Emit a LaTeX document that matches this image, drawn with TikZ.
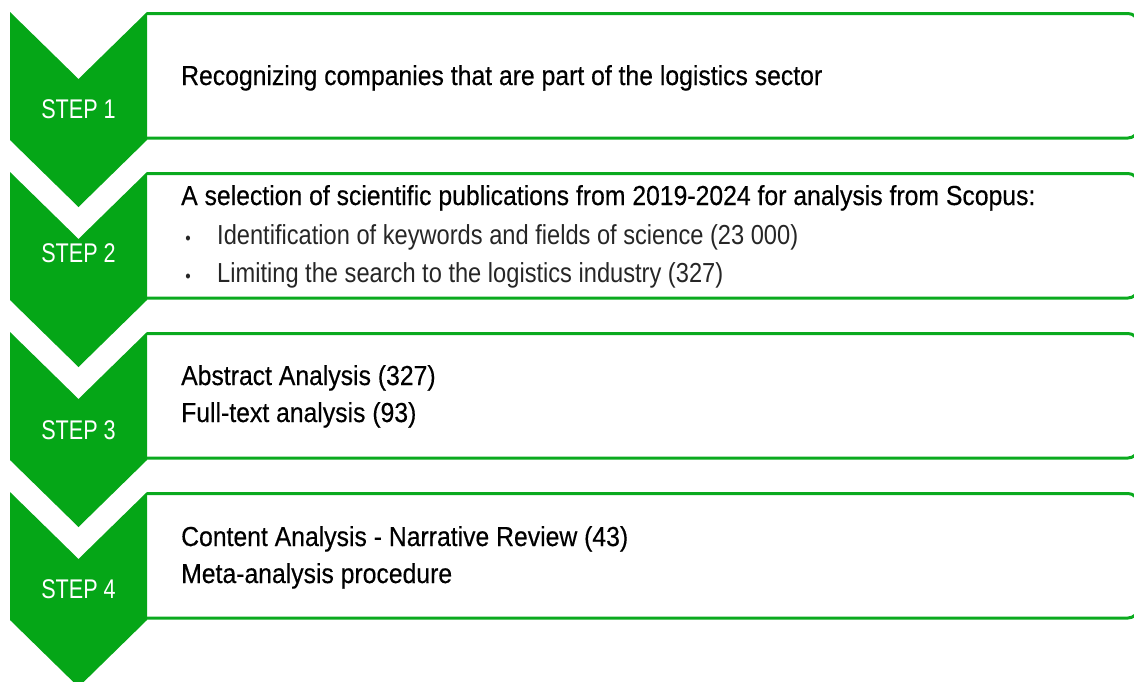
\documentclass[tikz,border=0pt]{standalone}
\usepackage{fontspec}
\setmainfont{Liberation Sans}[FakeStretch=0.86]
\newfontfamily\headfont{Liberation Sans}[FakeStretch=0.90,FakeBold=0.35]
\newfontfamily\labelfont{Liberation Sans}[FakeStretch=0.80]
\definecolor{stepgreen}{RGB}{5,166,23}
\definecolor{framegreen}{RGB}{10,170,30}
\begin{document}
\begin{tikzpicture}[x=1pt,y=-1pt,
  chevron/.style={fill=stepgreen,draw=none},
  frame/.style={draw=framegreen,line width=3pt,rounded corners=10pt},
  steplabel/.style={text=white,font=\labelfont\fontsize{27}{30}\selectfont,anchor=base,inner sep=0pt},
  headline/.style={font=\headfont\fontsize{27.5}{30}\selectfont,anchor=base west,inner sep=0pt,text=black},
  itemline/.style={font=\fontsize{27.5}{30}\selectfont,anchor=base west,inner sep=0pt,text=black!85},
  dot/.style={font=\fontsize{18}{20}\selectfont,anchor=base,inner sep=0pt,text=black!85}]
\useasboundingbox (0,0) rectangle (1134,681);
\begin{scope}
\clip (0,0) rectangle (1134,681);
% frames (left edge is hidden under the chevrons)
\foreach \t in {12,172,332,492}{
  \draw[frame] (147,\t+1.5) -| (1138,\t+126) -- (147,\t+126);
}
% chevrons
\foreach \t in {12,172,332,492}{
  \fill[chevron] (10,\t) -- (78.5,\t+67) -- (147,\t) -- (147,\t+128)
    -- (78.5,\t+195) -- (10,\t+128) -- cycle;
}
\end{scope}
% step labels
\node[steplabel] (s1) at (78.5,118) {STEP 1};
\node[steplabel] (s2) at (78.5,262) {STEP 2};
\node[steplabel] (s3) at (78.5,439) {STEP 3};
\node[steplabel] (s4) at (78.5,598) {STEP 4};
% step 1
\node[headline] (t1) at (181,85) {Recognizing companies that are part of the logistics sector};
% step 2
\node[headline] (t2) at (181,205) {A selection of scientific publications from 2019-2024 for analysis from Scopus:};
\node[dot] (d2a) at (188,244) {•};
\node[itemline] (t2a) at (217,244) {Identification of keywords and fields of science (23 000)};
\node[dot] (d2b) at (188,282) {•};
\node[itemline] (t2b) at (217,282) {Limiting the search to the logistics industry (327)};
% step 3
\node[headline] (t3a) at (181,385) {Abstract Analysis (327)};
\node[headline] (t3b) at (181,422) {Full-text analysis (93)};
% step 4
\node[headline] (t4a) at (181,546) {Content Analysis - Narrative Review (43)};
\node[headline] (t4b) at (181,583) {Meta-analysis procedure};
\end{tikzpicture}
\end{document}
